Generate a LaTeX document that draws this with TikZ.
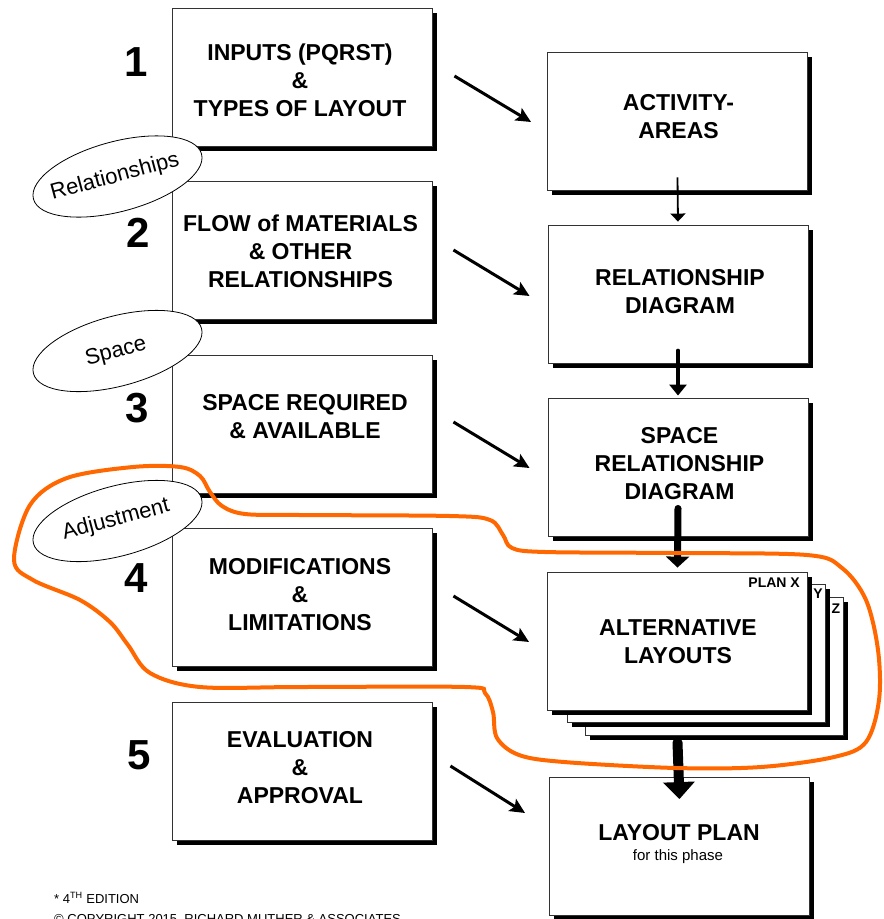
\documentclass[tikz,border=0pt]{standalone}
\usepackage{fontspec}
\setmainfont{Liberation Sans}
\usetikzlibrary{shapes.geometric,shadows,arrows.meta}
\definecolor{hilite}{RGB}{255,104,0}
\tikzset{
  boxbase/.style={rectangle, draw=black!80, line width=0.9pt, fill=white, inner sep=0pt,
    drop shadow={shadow xshift=4.5pt, shadow yshift=-4.5pt, fill=black, opacity=1}},
  lbox/.style={boxbase, minimum width=260pt, minimum height=138pt},
  sheet/.style={boxbase, minimum width=258pt, minimum height=138pt},
  btext/.style={align=center, font=\bfseries\fontsize{23}{28}\selectfont, inner sep=0pt},
  small/.style={font=\bfseries\fontsize{14}{14}\selectfont, inner sep=0pt},
  num/.style={font=\bfseries\fontsize{42}{42}\selectfont, anchor=east, inner sep=0pt},
  tag/.style={ellipse, draw=black, line width=0.8pt, fill=white, minimum width=174pt,
    minimum height=70pt, inner sep=0pt, rotate=15},
  tagtext/.style={inner sep=0pt, rotate=15, font=\fontsize{22}{22}\selectfont},
  foot/.style={font=\fontsize{13}{13}\selectfont, inner sep=0pt, anchor=base west},
  diag/.style={line width=3pt, -{Stealth[length=15pt,width=14pt,inset=3pt]}},
  vaone/.style={line width=1.8pt, -{Triangle[length=8pt,width=15pt]}},
  vatwo/.style={line width=3.5pt, line cap=round, -{Triangle[length=11pt,width=17pt]}},
  vathree/.style={line width=7pt, line cap=round, -{Triangle[length=11pt,width=23pt]}},
  vafour/.style={line width=10pt, line cap=round, -{Triangle[length=17pt,width=31pt]}},
}
\begin{document}
\begin{tikzpicture}[x=1pt,y=-1pt]
\useasboundingbox (0,0) rectangle (884,919);

% left column
\node[lbox] (b1) at (302,77.5) {};
\node[lbox] (b2) at (302,250) {};
\node[lbox] (b3) at (302,424) {};
\node[lbox] (b4) at (302,597) {};
\node[lbox] (b5) at (302,771) {};
\node[btext] (t1) at (300,80) {INPUTS (PQRST)\\\&\\TYPES OF LAYOUT};
\node[btext] (t2) at (300.5,251) {FLOW of MATERIALS\\\& OTHER\\RELATIONSHIPS};
\node[btext] (t3) at (305,417) {SPACE REQUIRED\\\& AVAILABLE};
\node[btext] (t4) at (300,594.5) {MODIFICATIONS\\\&\\LIMITATIONS};
\node[btext] (t5) at (300,768) {EVALUATION\\\&\\APPROVAL};

% numbers
\node[num] (n1) at (148,62) {1};
\node[num] (n2) at (150,233) {2};
\node[num] (n3) at (149,408) {3};
\node[num] (n4) at (148,578) {4};
\node[num] (n5) at (151,755) {5};

% right column
\node[lbox] (A) at (677.5,121) {};
\node[lbox] (B) at (678,294) {};
\node[lbox] (C) at (678,467) {};
\node[sheet] (s3) at (714,666) {};
\node[sheet] (s2) at (696,653) {};
\node[lbox] (D) at (677.5,641) {};
\node[lbox] (E) at (679.5,846.5) {};
\node[btext] (tA) at (678.5,117) {ACTIVITY-\\AREAS};
\node[btext] (tB) at (680,291.5) {RELATIONSHIP\\DIAGRAM};
\node[btext] (tC) at (679.5,463.5) {SPACE\\RELATIONSHIP\\DIAGRAM};
\node[btext] (tD) at (678,642) {ALTERNATIVE\\LAYOUTS};
\node[btext] (tE) at (679,833) {LAYOUT PLAN};
\node[font=\fontsize{15}{15}\selectfont, inner sep=0pt] (tE2) at (678,857) {for this phase};
\node[small, anchor=base east] (px) at (800,587) {PLAN X};
\node[small, anchor=base] (py) at (818,598) {Y};
\node[small, anchor=base] (pz) at (836,613) {Z};

% ellipses
\node[tag] (e1) at (117.5,176.5) {};
\node[tagtext] (et1) at (115,177) {Relationships};
\node[tag] (e2) at (117.5,351) {};
\node[tagtext] (et2) at (116,352) {Space};
\node[tag] (e3) at (117.5,521) {};
\node[tagtext] (et3) at (116,520) {Adjustment};

% diagonal arrows
\draw[diag] ([shift={(22,-1.5)}]b1.east) -- ([shift={(-16,1)}]A.west);
\draw[diag] ([shift={(21,0)}]b2.east) -- ([shift={(-18,2)}]B.west);
\draw[diag] ([shift={(21,-2)}]b3.east) -- ([shift={(-18,1)}]C.west);
\draw[diag] ([shift={(21,-1)}]b4.east) -- ([shift={(-18,1)}]D.west);
\draw[diag] ([shift={(18,-5)}]b5.east) -- ([shift={(-24,-33.5)}]E.west);

% vertical arrows
\draw[vaone] ([yshift=13pt]A.south) -- ([yshift=3pt]B.north);
\draw[vatwo] ([yshift=13pt]B.south) -- ([yshift=2pt]C.north);
\draw[vathree] ([yshift=28pt]C.south) -- ([yshift=4pt]D.north);
\draw[vafour] ([yshift=-32pt]D.south) -- ([yshift=-22pt]E.north);

% orange outline
\draw[hilite, line width=4pt] plot[smooth cycle, tension=0.55] coordinates {
 (14,560) (30,505) (67,478) (133,467) (180,467) (200,476) (210,492) (222,506)
 (245,514) (300,515) (450,516) (490,520) (503,535) (512,548) (545,552) (673,553)
 (807,555) (842,568) (866,600) (878,650) (879,700) (866,742) (834,757) (761,767)
 (676,768) (564,762) (519,755) (497,738) (493,712) (485,693) (465,687) (300,687)
 (200,687) (150,673) (128,645) (110,622) (80,600) (33,580)};

% footer
\node[foot] (ed) at (54,903) {* 4\textsuperscript{TH} EDITION};
\node[foot] (cr) at (54,923.5) {\textcopyright{} COPYRIGHT 2015, RICHARD MUTHER \& ASSOCIATES};
\end{tikzpicture}
\end{document}
